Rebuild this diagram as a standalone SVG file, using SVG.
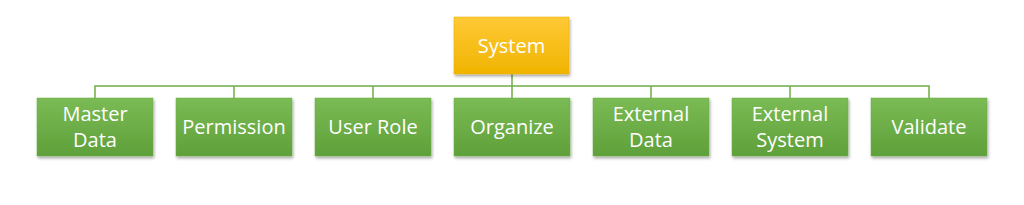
<svg xmlns="http://www.w3.org/2000/svg" width="1024" height="205" viewBox="0 0 1024 205">
<defs>
<linearGradient id="gy" x1="0" y1="0" x2="0" y2="1">
<stop offset="0" stop-color="#FFC936"/>
<stop offset="1" stop-color="#F0B400"/>
</linearGradient>
<linearGradient id="gg" x1="0" y1="0" x2="0" y2="1">
<stop offset="0" stop-color="#7BBB55"/>
<stop offset="1" stop-color="#5FA03A"/>
</linearGradient>
<filter id="sh" x="-10%" y="-10%" width="130%" height="130%">
<feDropShadow dx="1" dy="2" stdDeviation="1.5" flood-color="#000" flood-opacity="0.35"/>
</filter>
</defs>
<style>
.g{fill:url(#gg);stroke:#6AAE45;stroke-width:0.5;filter:url(#sh)}
.y{fill:url(#gy);stroke:#E8AE00;stroke-width:0.5;filter:url(#sh)}
text{font-family:"Open Sans","Liberation Sans",sans-serif;font-size:20px;fill:#fff;text-anchor:middle}
.c{fill:none;stroke:#70AD47;stroke-width:1.5}
</style>
<rect width="1024" height="205" fill="#fff"/>
<g id="connectors">
<path class="c" d="M512 74V98M95 98V86H929V98M234 86V98M373 86V98M651 86V98M790 86V98"/>
</g>
<g id="system"><rect class="y" x="454" y="17" width="115" height="57"/><text x="511.5" y="53">System</text></g>
<g id="master-data"><rect class="g" x="37" y="98" width="116" height="58"/><text x="95" y="121">Master</text><text x="95" y="147">Data</text></g>
<g id="permission"><rect class="g" x="176" y="98" width="116" height="58"/><text x="234" y="134">Permission</text></g>
<g id="user-role"><rect class="g" x="315" y="98" width="116" height="58"/><text x="373" y="134">User Role</text></g>
<g id="organize"><rect class="g" x="454" y="98" width="116" height="58"/><text x="512" y="134">Organize</text></g>
<g id="external-data"><rect class="g" x="593" y="98" width="116" height="58"/><text x="651" y="121">External</text><text x="651" y="147">Data</text></g>
<g id="external-system"><rect class="g" x="732" y="98" width="116" height="58"/><text x="790" y="121">External</text><text x="790" y="147">System</text></g>
<g id="validate"><rect class="g" x="871" y="98" width="116" height="58"/><text x="929" y="134">Validate</text></g>
</svg>
